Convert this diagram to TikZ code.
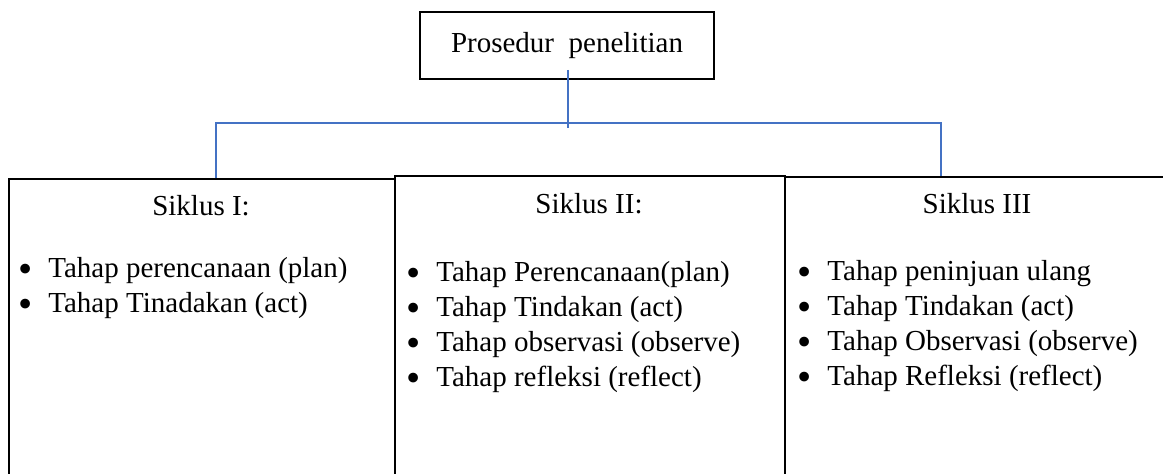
\documentclass[tikz,border=0pt]{standalone}
\usepackage{fontspec}
\setmainfont{Liberation Serif}
\usepackage{tikz}
\usetikzlibrary{positioning}
\definecolor{garisbiru}{HTML}{4472C4}

\newcommand{\butir}[1]{\makebox[15pt][l]{\smash{\raisebox{-2.3pt}{\scalebox{1.4}{\textbullet}}}}\strut#1}

\begin{document}
\begin{tikzpicture}[
    x=0.5pt, y=-0.5pt,
    font=\fontsize{14.5}{17.5}\selectfont,
    kotak/.style={rectangle, draw, line width=0.8pt, anchor=north west, inner sep=0pt, minimum width=#1, minimum height=152pt},
    judul/.style={anchor=base, inner sep=0pt},
    daftar/.style={anchor=north west, align=left, inner sep=0pt},
    sambung/.style={garisbiru, line width=1pt}
]
    \useasboundingbox (0,0) rectangle (1163,473);

    % kotak atas
    \node[rectangle, draw, line width=0.8pt, minimum width=147pt, minimum height=33.5pt] (prosedur) at (567,45.5) {Prosedur\ \ penelitian};

    % tiga siklus
    \node[kotak=193pt] (siklus1) at (8,178) {};
    \node[kotak=195pt] (siklus2) at (394,175) {};
    \node[kotak=195pt] (siklus3) at (784,176) {};

    \node[judul] (judul1) at (201,215) {Siklus I:};
    \node[judul] (judul2) at (589,213) {Siklus II:};
    \node[judul] (judul3) at (977,213) {Siklus III};

    \node[daftar] (isi1) at (18,252.5) {\butir{Tahap perencanaan (plan)}\\
        \butir{Tahap Tinadakan (act)}};
    \node[daftar] (isi2) at (406,256.5) {\butir{Tahap Perencanaan(plan)}\\
        \butir{Tahap Tindakan (act)}\\
        \butir{Tahap observasi (observe)}\\
        \butir{Tahap refleksi (reflect)}};
    \node[daftar] (isi3) at (797,255.5) {\butir{Tahap peninjuan ulang}\\
        \butir{Tahap Tindakan (act)}\\
        \butir{Tahap Observasi (observe)}\\
        \butir{Tahap Refleksi (reflect)}};

    % garis penghubung
    \coordinate (cabang) at (568,123);
    \coordinate (kiri) at (216,123);
    \coordinate (kanan) at (941,123);
    \draw[sambung] ([yshift=5pt]prosedur.south -| cabang) -- ([yshift=-2.5pt]cabang);
    \draw[sambung] (siklus1.north -| kiri) -- (kiri) -- (kanan) -- (siklus3.north -| kanan);
\end{tikzpicture}
\end{document}
